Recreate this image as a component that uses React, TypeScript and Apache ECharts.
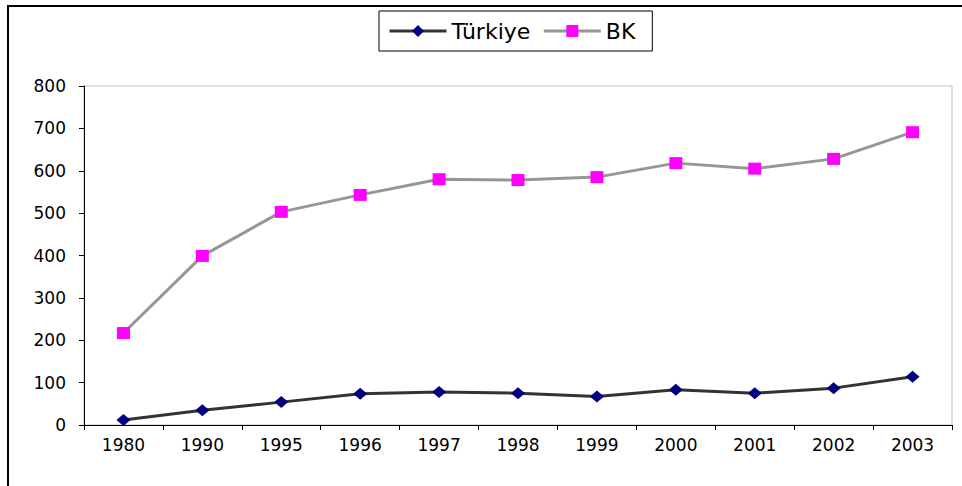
import React, { useEffect, useRef } from "react";
import * as echarts from "echarts";

const years = ["1980", "1990", "1995", "1996", "1997", "1998", "1999", "2000", "2001", "2002", "2003"];
const turkiye = [12, 35, 54, 74, 78, 75, 67, 83, 75, 87, 114];
const bk = [217, 399, 503, 543, 580, 578, 585, 618, 605, 628, 691];

const FONT = "DejaVu Sans";

export default function App() {
  const ref = useRef<HTMLDivElement>(null);
  useEffect(() => {
    if (!ref.current) return;
    const chart = echarts.init(ref.current, null, { renderer: "svg" });
    chart.setOption({
      animation: false,
      backgroundColor: "#ffffff",
      graphic: [
        {
          type: "rect",
          shape: { x: 8, y: 6, width: 1200, height: 1200 },
          style: { fill: "none", stroke: "#000000", lineWidth: 2 },
          silent: true,
        },
      ],
      legend: {
        left: 379,
        top: 11,
        padding: [9, 17, 9, 9],
        itemGap: 12,
        itemWidth: 57,
        itemHeight: 15,
        borderColor: "#000000",
        borderWidth: 1,
        borderRadius: 0,
        lineStyle: { width: 3 },
        textStyle: { fontFamily: FONT, fontSize: 22, color: "#000000" },
        data: ["Türkiye", "BK"],
      },
      grid: {
        left: 84,
        top: 86,
        right: 10,
        bottom: 61,
        show: true,
        borderColor: "#c0c0c0",
        borderWidth: 1,
        backgroundColor: "transparent",
      },
      xAxis: {
        type: "category",
        data: years,
        boundaryGap: true,
        axisLine: { lineStyle: { color: "#000000", width: 1 } },
        axisTick: { show: true, length: 5, lineStyle: { color: "#000000" } },
        axisLabel: { fontFamily: FONT, fontSize: 17, color: "#000000", margin: 11 },
        splitLine: { show: false },
      },
      yAxis: {
        type: "value",
        min: 0,
        max: 800,
        interval: 100,
        axisLine: { show: true, lineStyle: { color: "#000000", width: 1 } },
        axisTick: { show: true, length: 5, lineStyle: { color: "#000000" } },
        axisLabel: { fontFamily: FONT, fontSize: 17, color: "#000000", margin: 18 },
        splitLine: { show: false },
      },
      series: [
        {
          name: "Türkiye",
          type: "line",
          data: turkiye,
          symbol: "diamond",
          symbolSize: [14, 12],
          lineStyle: { color: "#333333", width: 3 },
          itemStyle: { color: "#000080" },
        },
        {
          name: "BK",
          type: "line",
          data: bk,
          symbol: "rect",
          symbolSize: [13, 12],
          lineStyle: { color: "#969696", width: 3 },
          itemStyle: { color: "#ff00ff" },
        },
      ],
    });
    return () => chart.dispose();
  }, []);
  return (
    <div
      ref={ref}
      style={{ position: "absolute", left: 0, top: 0, width: 962, height: 486 }}
    />
  );
}
